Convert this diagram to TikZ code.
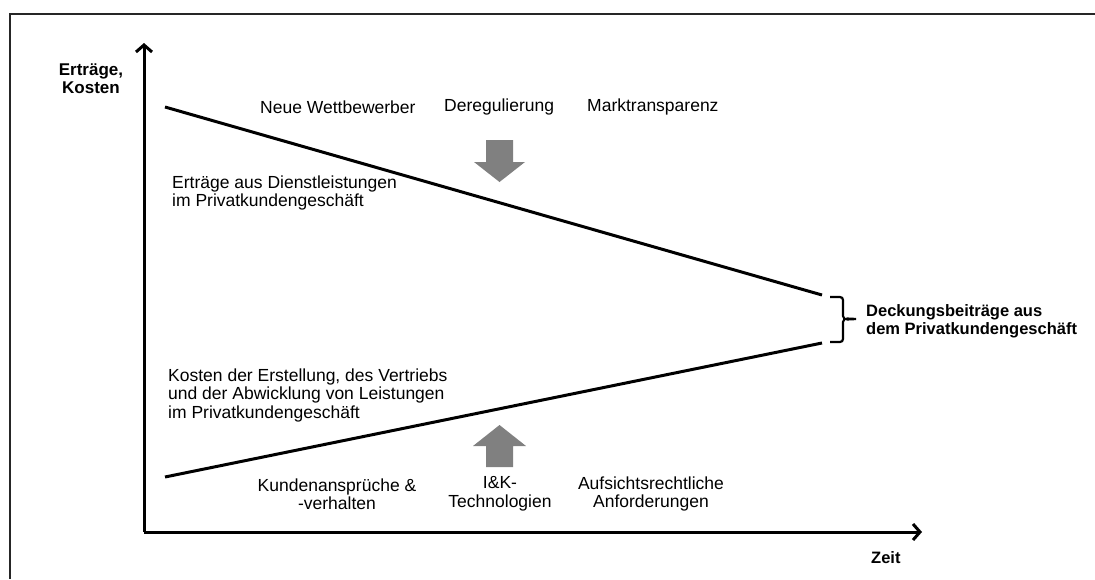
\documentclass[tikz,border=0pt]{standalone}
\usepackage{fontspec}
\setmainfont{Liberation Sans}
\usetikzlibrary{arrows.meta}
\begin{document}
\begin{tikzpicture}[x=1pt,y=-1pt,
  frameline/.style={line width=2pt,black!85},
  axisline/.style={line width=3pt,-{Straight Barb[length=7pt,width=16pt,line width=3pt]}},
  trendline/.style={line width=3pt},
  txt/.style={inner sep=0pt,font=\fontsize{17.5}{18.5}\selectfont,text=black},
  btxt/.style={inner sep=0pt,font=\bfseries\fontsize{16.5}{18}\selectfont},
  grayarrow/.style={fill=black!50,draw=none}]
\useasboundingbox (0,0) rectangle (1095,579);
% frame
\coordinate (fTR) at (1095,14);
\coordinate (fTL) at (10,14);
\coordinate (fBL) at (10,579);
\draw[frameline] (fTR) -- (fTL) -- (fBL);
% axes
\coordinate (O) at (144,532);
\coordinate (ytip) at (144,43);
\coordinate (xtip) at (922,532);
\draw[axisline] (O) -- (ytip);
\draw[axisline] (O) -- (xtip);
% trend lines
\coordinate (r1) at (165,107);
\coordinate (r2) at (822,295);
\coordinate (k1) at (165,477);
\coordinate (k2) at (822,343);
\draw[trendline] (r1) -- (r2);
\draw[trendline] (k1) -- (k2);
% brace
\coordinate (b1) at (830,297);
\coordinate (b2) at (830,342);
\coordinate (btip) at (856,319);
\draw[line width=2.2pt] (b1) -- (840,297) to[out=0,in=90] (843,300) -- (843,316) to[out=270,in=180] (btip)
  (btip) to[out=180,in=90] (843,322) -- (843,339) to[out=270,in=0] (840,342) -- (b2);
% axis labels
\node[btxt,align=center,font=\bfseries\fontsize{17}{18}\selectfont] (ylab) at (91,79) {Erträge,\\Kosten};
\node[btxt,anchor=west] (xlab) at (871,558) {Zeit};
\node[btxt,anchor=west,align=left] (db) at (866,321) {Deckungsbeiträge aus\\dem Privatkundengeschäft};
% top factors
\node[txt,anchor=west] (nw) at (260,107) {Neue Wettbewerber};
\node[txt,anchor=west] (dr) at (444,107) {Deregulierung};
\node[txt,anchor=west] (mt) at (587,107) {Marktransparenz};
% gray arrows
\fill[grayarrow] (486,140) -- (513,140) -- (513,162) -- (525,162) -- (499.5,182) -- (474,162) -- (486,162) -- cycle;
\fill[grayarrow] (486,467) -- (513,467) -- (513,446) -- (526,446) -- (499.5,425) -- (473,446) -- (486,446) -- cycle;
% line labels
\node[txt,anchor=west,align=left] (ert) at (172,193) {Erträge aus Dienstleistungen\\im Privatkundengeschäft};
\node[txt,anchor=west,align=left] (kos) at (168,395) {Kosten der Erstellung, des Vertriebs\\und der Abwicklung von Leistungen\\im Privatkundengeschäft};
% bottom factors
\node[txt,align=center] (ka) at (337,494) {Kundenansprüche \&\\-verhalten};
\node[txt,align=center] (ik) at (500,494) {I\&K-\\Technologien};
\node[txt,align=center] (af) at (651,494) {Aufsichtsrechtliche\\Anforderungen};
\end{tikzpicture}
\end{document}
